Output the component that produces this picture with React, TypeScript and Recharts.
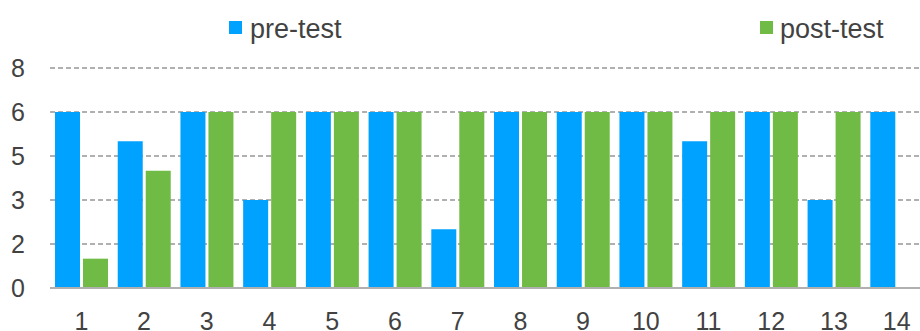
import React from 'react';
import { BarChart, Bar, XAxis, YAxis, CartesianGrid } from 'recharts';

const categories = ['1', '2', '3', '4', '5', '6', '7', '8', '9', '10', '11', '12', '13', '14'];
const preTest = [6, 5, 6, 3, 6, 6, 2, 6, 6, 6, 5, 6, 3, 6];
const postTest: (number | null)[] = [1, 4, 6, 6, 6, 6, 6, 6, 6, 6, 6, 6, 6, null];
const yTicks = [0, 1.5, 3, 4.5, 6, 7.5];
const seriesNames = ['pre-test', 'post-test'];

const data = categories.map((c, i) => ({ name: c, pre: preTest[i], post: postTest[i] }));

const BLUE = '#00A2FF';
const GREEN = '#70BB45';
const TEXT = '#424242';
const FONT = '"Liberation Sans", Arial, Helvetica, sans-serif';
const colors = [BLUE, GREEN];

const legendPos = [
  { sq: 229, text: 250 },
  { sq: 760, text: 780 },
];

export default function App() {
  return (
    <div style={{ position: 'absolute', left: 0, top: 0, width: 920, height: 331, overflow: 'hidden', background: '#fff' }}>
      <BarChart
        width={930}
        height={341}
        data={data}
        margin={{ top: 68, right: 2, bottom: 0, left: 0 }}
        barCategoryGap="8%"
        barGap={3}
      >
        <CartesianGrid vertical={false} stroke="#b0b0b0" strokeWidth={2} strokeDasharray="5 3" />
        <XAxis
          dataKey="name"
          height={53}
          tickLine={false}
          tickSize={0}
          tickMargin={24}
          axisLine={{ stroke: '#b0b0b0', strokeWidth: 2 }}
          tick={{ fill: TEXT, fontSize: 25, fontFamily: FONT }}
          interval={0}
        />
        <YAxis
          width={50}
          domain={[0, 7.5]}
          ticks={yTicks}
          axisLine={false}
          tickLine={false}
          tickSize={0}
          tickMargin={25}
          tickFormatter={(v: number) => String(Math.round(v))}
          tick={{ fill: TEXT, fontSize: 25, fontFamily: FONT }}
        />
        <Bar dataKey="pre" name={seriesNames[0]} fill={BLUE} isAnimationActive={false} />
        <Bar dataKey="post" name={seriesNames[1]} fill={GREEN} isAnimationActive={false} />
      </BarChart>
      <svg width={920} height={50} style={{ position: 'absolute', left: 0, top: 0 }}>
        {seriesNames.map((n, i) => (
          <g key={n}>
            <rect x={legendPos[i].sq} y={21} width={13} height={13} fill={colors[i]} />
            <text x={legendPos[i].text} y={38} fontSize={27} fill={TEXT} fontFamily={FONT}>
              {n}
            </text>
          </g>
        ))}
      </svg>
    </div>
  );
}
